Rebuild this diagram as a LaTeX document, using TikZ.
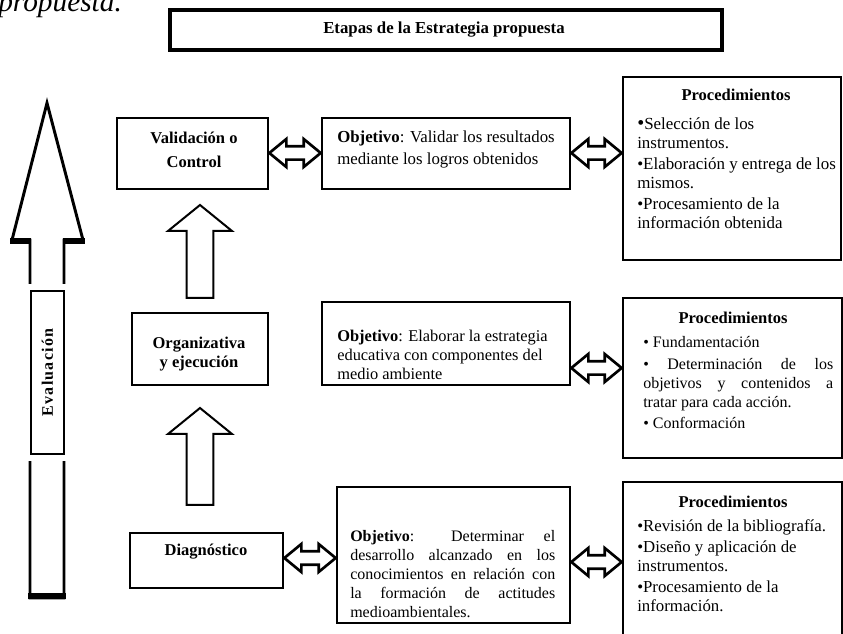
\documentclass[tikz,border=0pt]{standalone}
\usepackage{fontspec}
\setmainfont{Liberation Serif}
\newfontfamily\spacedfont[LetterSpace=8]{Liberation Serif}
\usetikzlibrary{fit,calc}
\newcommand\justline[2]{\makebox[#1][s]{#2}}
\begin{document}
\begin{tikzpicture}[x=0.75pt,y=-0.75pt,
  box/.style={draw, line width=2pt, inner sep=0pt},
  titlebox/.style={draw, line width=2.6pt, inner sep=0pt},
  lefttxt/.style={inner sep=0pt, align=left, anchor=north west, font=\fontsize{12}{14.25}\selectfont},
  midtxt/.style={inner sep=0pt, align=center, font=\bfseries\fontsize{12.4}{14.25}\selectfont},
  dbl/.style={draw, line width=2pt, fill=white, line join=miter,
    to path={let \p1=(\tikztostart), \p2=(\tikztotarget) in
      (\x1,\y1) -- (\x1+12.75pt,\y1+10.5pt) -- (\x1+12.75pt,\y1+5pt) -- (\x2-12.75pt,\y1+5pt)
      -- (\x2-12.75pt,\y1+10.5pt) -- (\x2,\y1) -- (\x2-12.75pt,\y1-10.5pt) -- (\x2-12.75pt,\y1-5pt)
      -- (\x1+12.75pt,\y1-5pt) -- (\x1+12.75pt,\y1-10.5pt) -- cycle}},
  uparr/.style={draw, line width=1.5pt, fill=white,
    to path={let \p1=(\tikztostart), \p2=(\tikztotarget) in
      (\x1-10pt,\y1) -- (\x1-10pt,\y2-19.5pt) -- (\x1-24pt,\y2-19.5pt) -- (\x2,\y2)
      -- (\x1+24pt,\y2-19.5pt) -- (\x1+10pt,\y2-19.5pt) -- (\x1+10pt,\y1) -- cycle}},
  bigarrow/.style={draw, line width=2.2pt, fill=white, line join=miter}
]
\useasboundingbox (0,0) rectangle (843,634);

% caption fragment
\node[anchor=base west, inner sep=0pt, font=\itshape\fontsize{22}{22}\selectfont] (cap) at (-2,12) {propuesta.};

% title
\node[titlebox, fit={(170,10) (722,50)}] (title) {};
\node[midtxt, font=\bfseries\fontsize{12.6}{14.25}\selectfont] (titletext) at (444,30) {Etapas de la Estrategia propuesta};

% big evaluation arrow
\draw[bigarrow] (30,598) -- (30,240) -- (12,240) -- (47,103) -- (83,240) -- (64,240) -- (64,598) -- cycle;
\draw[line width=4pt] (10,241) -- (31,241) (63,241) -- (85,241);
\draw[line width=5pt] (28,596) -- (66,596);
\fill[white] (22,284) rectangle (72,461);
\node[box, fit={(31,291) (64,454)}] (eval) {};
\node[rotate=90, inner sep=0pt, font=\spacedfont\bfseries\fontsize{12}{14}\selectfont] (evaltext) at (eval.center) {Evaluación};

% stage boxes
\node[box, fit={(117,118) (268,189)}] (val) {};
\node[box, fit={(132,313) (268,385)}] (org) {};
\node[box, fit={(130,533) (283,588)}] (diag) {};
\node[midtxt, font=\bfseries\fontsize{12.4}{18}\selectfont] (valtext) at (194,150) {Validación o\\Control};
\node[midtxt] (orgtext) at (199,354) {Organizativa\\y ejecución};
\node[midtxt] (diagtext) at (206,552) {Diagnóstico};

% objective boxes
\node[box, fit={(322,118) (570,189)}] (o1) {};
\node[box, fit={(322,302) (570,385)}] (o2) {};
\node[box, fit={(337,487) (570,623)}] (o3) {};
\node[lefttxt, font=\fontsize{12.6}{16.5}\selectfont] (o1text) at (337,131)
  {\textbf{Objetivo}: Validar los resultados\\mediante los logros obtenidos};
\node[lefttxt, font=\fontsize{12.3}{14.25}\selectfont] (o2text) at (337,330)
  {\textbf{Objetivo}: Elaborar la estrategia\\educativa con componentes del\\medio ambiente};
\node[lefttxt] (o3text) at (350,530)
  {\justline{153.75pt}{\textbf{Objetivo}: Determinar el}\\
   \justline{153.75pt}{desarrollo alcanzado en los}\\
   \justline{153.75pt}{conocimientos en relación con}\\
   \justline{153.75pt}{la formación de actitudes}\\
   medioambientales.};

% procedure boxes
\node[box, fit={(623,77) (841,260)}] (p1) {};
\node[box, fit={(623,298) (842,458)}] (p2) {};
\node[box, fit={(623,482) (842,640)}] (p3) {};
\node[midtxt] (p1title) at (736,95) {Procedimientos};
\node[midtxt] (p2title) at (733,318) {Procedimientos};
\node[midtxt] (p3title) at (733,502) {Procedimientos};
\node[lefttxt, font=\fontsize{12.7}{14.25}\selectfont] (p1text) at (637,117)
  {{\fontsize{15}{14}\selectfont •}Selección de los\\instrumentos.\\[1.5pt]
   •Elaboración y entrega de los\\mismos.\\[1.5pt]
   •Procesamiento de la\\información obtenida};
\node[lefttxt] (p2text) at (643,336)
  {• Fundamentación\\[2pt]
   \justline{142.5pt}{• Determinación de los}\\
   \justline{142.5pt}{objetivos y contenidos a}\\
   tratar para cada acción.\\[2pt]
   • Conformación};
\node[lefttxt, font=\fontsize{12.6}{14.25}\selectfont] (p3text) at (637,519)
  {•Revisión de la bibliografía.\\[1.5pt]
   •Diseño y aplicación de\\instrumentos.\\[1.5pt]
   •Procesamiento de la\\información.};

% vertical block arrows
\coordinate (u1s) at (200,298);
\coordinate (u1t) at (200,205);
\coordinate (u2s) at (200,505);
\coordinate (u2t) at (200,408);
\draw[uparr] (u1s) to (u1t);
\draw[uparr] (u2s) to (u2t);

% double arrows
\draw[dbl] (val.east |- 0,153) to (o1.west |- 0,153);
\draw[dbl] (o1.east |- 0,153) to (p1.west |- 0,153);
\draw[dbl] (o2.east |- 0,368) to (p2.west |- 0,368);
\draw[dbl] (diag.east |- 0,558) to (o3.west |- 0,558);
\draw[dbl] (o3.east |- 0,562) to (p3.west |- 0,562);
\end{tikzpicture}
\end{document}
